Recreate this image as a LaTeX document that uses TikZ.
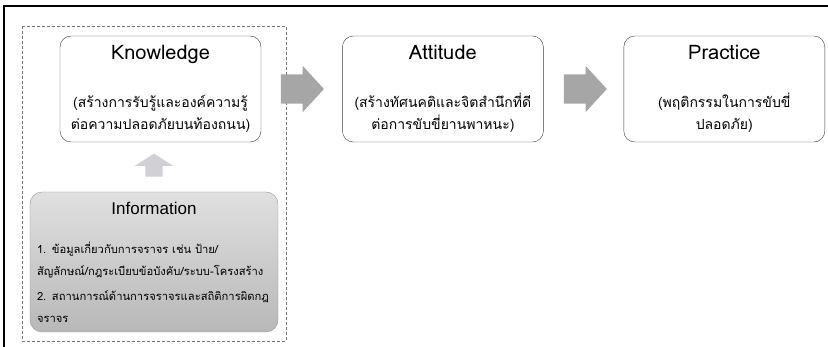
\documentclass[tikz,border=0pt]{standalone}
\usepackage{fontspec}
\setmainfont{Liberation Sans}
\newfontfamily\thaifont[Script=Thai]{Loma}
\usetikzlibrary{positioning,shapes.arrows}
\definecolor{flowgray}{RGB}{166,166,166}
\definecolor{upgray}{RGB}{208,208,213}
\definecolor{infotop}{RGB}{224,224,224}
\definecolor{infobot}{RGB}{184,184,184}
\definecolor{infoline}{RGB}{150,150,150}
\definecolor{boxline}{RGB}{60,60,60}
\definecolor{groupline}{RGB}{120,120,120}
\newcommand{\kaptitle}[1]{{\fontsize{20}{24}\selectfont #1}}

\begin{document}
\begin{tikzpicture}[x=1pt,y=-1pt,
    kapbox/.style={draw=boxline,rounded corners=11pt,minimum width=201pt,
      minimum height=106pt,inner sep=0pt,align=center,
      font=\thaifont\fontsize{14}{22}\selectfont},
    flow/.style={single arrow,fill=flowgray,inner sep=14.5pt,minimum height=43pt,
      single arrow head extend=8.5pt,single arrow tip angle=95},
    upflow/.style={single arrow,fill=upgray,inner sep=8.5pt,minimum height=22pt,
      single arrow head extend=10.5pt,single arrow tip angle=115,
      shape border rotate=90},
    infobox/.style={draw=infoline,rounded corners=12pt,top color=infotop,
      bottom color=infobot,text width=234pt,minimum height=140pt,
      inner xsep=7pt,inner ysep=0pt,align=left,
      font=\thaifont\fontsize{11.2}{22}\selectfont}]
  \useasboundingbox (0,0) rectangle (828,347);
  % edge of the screenshot
  \draw[line width=2pt] (4,347) -- (4,6) -- (828,6);
  % group round knowledge and information
  \draw[groupline,dash pattern=on 3pt off 2pt] (22,26) rectangle (286,341);

  \node[kapbox] (know) at (160.5,89) {\kaptitle{Knowledge}\\[26pt]
    (สร้างการรับรู้และองค์ความรู้\\ต่อความปลอดภัยบนท้องถนน)};
  \node[kapbox,right=81pt of know] (att) {\kaptitle{Attitude}\\[26pt]
    (สร้างทัศนคติและจิตสำนึกที่ดี\\ต่อการขับขี่ยานพาหนะ)};
  \node[kapbox,right=80pt of att] (prac) {\kaptitle{Practice}\\[26pt]
    (พฤติกรรมในการขับขี่\\ปลอดภัย)};

  \node[flow,right=19.5pt of know] (kaflow) {};
  \node[flow,right=20pt of att] (apflow) {};

  \node[infobox] (info) at (154,262) {%
    \makebox[234pt]{\fontsize{17}{20}\selectfont\rmfamily Information}\\[17pt]
    1. ข้อมูลเกี่ยวกับการจราจร เช่น ป้าย/\\
    สัญลักษณ์/กฎระเบียบข้อบังคับ/ระบบ-โครงสร้าง\\[3pt]
    2. สถานการณ์ด้านการจราจรและสถิติการผิดกฎ\\
    จราจร};
  \node[upflow,above=15pt of info] (ikflow) {};
\end{tikzpicture}
\end{document}
